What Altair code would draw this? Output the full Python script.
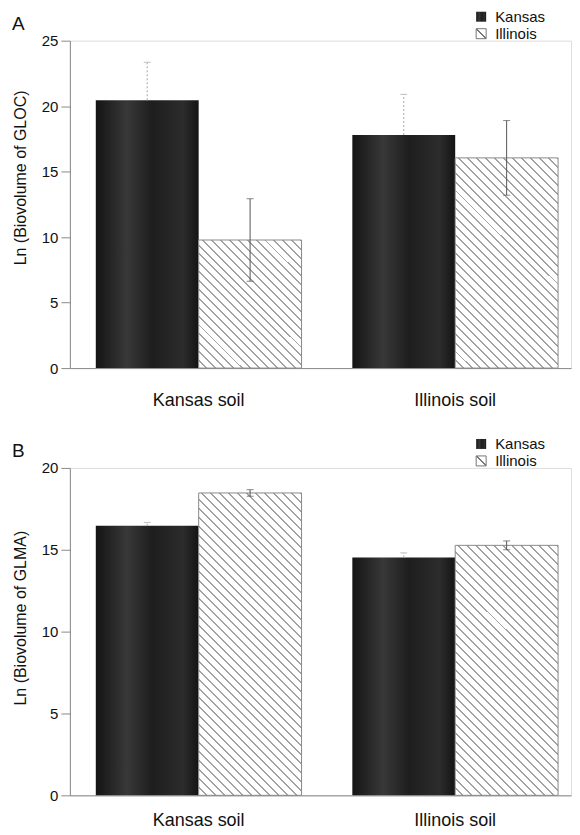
import altair as alt
import pandas as pd

soils = ["Kansas soil", "Illinois soil"]
states = ["Kansas", "Illinois"]

row_soil = ["Kansas soil", "Kansas soil", "Illinois soil", "Illinois soil"]
row_state = ["Kansas", "Illinois", "Kansas", "Illinois"]

# Panel A: Ln (Biovolume of GLOC)
a_mean = [20.45, 9.78, 17.8, 16.05]
a_err = [2.9, 3.15, 3.1, 2.85]
# Panel B: Ln (Biovolume of GLMA)
b_mean = [16.47, 18.47, 14.53, 15.27]
b_err = [0.2, 0.2, 0.28, 0.27]

a_ticks = [0, 5, 10, 15, 20, 25]
b_ticks = [0, 5, 10, 15, 20]

FONT = "Liberation Sans"
PLOT_W = 502
PLOT_H = 328
BAR_W = 103  # approx pixel width of one bar (for hatch spacing only)


def hatch(h_px, spacing=9.0, frac=0.78, color="#a2a2a2"):
    """Diagonal '\\' hatch at 45 degrees for a bar of height h_px (style only)."""
    r = h_px / BAR_W
    k = (1 + r) / (1 + r * r)
    n = max(1, int(round((BAR_W + h_px) / spacing)))
    stops = []
    for i in range(n):
        p0 = i / n
        p1 = (i + frac) / n
        p2 = (i + 1) / n
        stops += [
            {"offset": p0, "color": "#ffffff"},
            {"offset": p1, "color": "#ffffff"},
            {"offset": p1, "color": color},
            {"offset": p2, "color": color},
        ]
    return {"gradient": "linear", "x1": 0, "y1": 1, "x2": k, "y2": 1 - k * r, "stops": stops}


DARK = {
    "gradient": "linear", "x1": 0, "y1": 0, "x2": 1, "y2": 0,
    "stops": [
        {"offset": 0, "color": "#141414"},
        {"offset": 0.3, "color": "#383838"},
        {"offset": 0.55, "color": "#1e1e1e"},
        {"offset": 0.85, "color": "#2c2c2c"},
        {"offset": 1, "color": "#141414"},
    ],
}
HATCH_SMALL = {"gradient": "linear", "x1": 0, "y1": 1, "x2": 1, "y2": 0,
               "stops": [{"offset": 0, "color": "#ffffff"}, {"offset": 0.45, "color": "#ffffff"},
                         {"offset": 0.45, "color": "#777777"}, {"offset": 0.55, "color": "#777777"},
                         {"offset": 0.55, "color": "#ffffff"}, {"offset": 1, "color": "#ffffff"}]}


def panel(mean, err, ymax, ticks, ytitle, letter, title_y, label_pad):
    df = pd.DataFrame({"soil": row_soil, "state": row_state, "mean": mean, "err": err})
    df["hi"] = df["mean"] + df["err"]
    df["lo"] = [m if s == "Kansas" else m - e for m, e, s in zip(df["mean"], df["err"], df["state"])]

    x = alt.X(
        "soil:N", sort=soils,
        scale=alt.Scale(paddingInner=0.198, paddingOuter=0.0757, align=0.667),
        axis=alt.Axis(title=None, ticks=False, tickSize=0, labelFontSize=18, labelFont=FONT,
                      labelPadding=label_pad, labelBaseline="middle", labelAngle=0,
                      domainColor="#8a8a8a", labelColor="#111111"),
    )
    xo = alt.XOffset("state:N", sort=states, scale=alt.Scale(paddingInner=0, paddingOuter=0))
    y = alt.Y(
        "mean:Q", scale=alt.Scale(domain=[0, ymax], nice=False, zero=True),
        axis=alt.Axis(values=ticks, title=ytitle, titleFont=FONT, titleFontSize=16,
                      titleFontWeight="normal", titleColor="#111111",
                      titleX=-49, titleY=title_y, titleAngle=270, titleBaseline="middle",
                      titleAlign="center",
                      labelFont=FONT, labelFontSize=15, labelColor="#111111", labelPadding=3,
                      tickSize=9, tickColor="#8a8a8a", domainColor="#8a8a8a", grid=False),
    )

    base = alt.Chart(df)
    layers = [base.transform_filter("datum.state == 'Kansas'").mark_bar(
        fill=DARK, strokeWidth=0).encode(x=x, xOffset=xo, y=y)]
    px_per_unit = PLOT_H / ymax
    for s, st, m in zip(row_soil, row_state, mean):
        if st != "Illinois":
            continue
        layers.append(
            base.transform_filter(f"datum.state == 'Illinois' && datum.soil == '{s}'").mark_bar(
                fill=hatch(m * px_per_unit), stroke="#8a8a8a", strokeWidth=1).encode(x=x, xOffset=xo, y=y))

    layers += [
        base.transform_filter("datum.state == 'Kansas'").mark_rule(
            color="#a8a8a8", strokeDash=[2, 2], strokeWidth=1).encode(x=x, xOffset=xo, y="lo:Q", y2="hi:Q"),
        base.transform_filter("datum.state == 'Kansas'").mark_tick(
            color="#a8a8a8", size=7, thickness=1).encode(x=x, xOffset=xo, y="hi:Q"),
        base.transform_filter("datum.state == 'Illinois'").mark_rule(
            color="#555555", strokeWidth=1).encode(x=x, xOffset=xo, y="lo:Q", y2="hi:Q"),
        base.transform_filter("datum.state == 'Illinois'").mark_tick(
            color="#555555", size=7, thickness=1).encode(x=x, xOffset=xo, y="hi:Q"),
        base.transform_filter("datum.state == 'Illinois'").mark_tick(
            color="#555555", size=7, thickness=1).encode(x=x, xOffset=xo, y="lo:Q"),
    ]

    one = pd.DataFrame({"k": [0]})
    lg_df = pd.DataFrame({"label": states})
    layers += [
        alt.Chart(one).mark_square(size=100, fill=DARK, strokeWidth=0, opacity=1).encode(
            x=alt.value(412), y=alt.value(-24)),
        alt.Chart(one).mark_square(size=100, fill=HATCH_SMALL, stroke="#777777",
                                   strokeWidth=1, opacity=1).encode(x=alt.value(412), y=alt.value(-7)),
        alt.Chart(lg_df).transform_filter("datum.label == 'Kansas'").mark_text(
            align="left", baseline="middle", font=FONT, fontSize=15, color="#111111").encode(
            x=alt.value(426), y=alt.value(-24), text="label:N"),
        alt.Chart(lg_df).transform_filter("datum.label == 'Illinois'").mark_text(
            align="left", baseline="middle", font=FONT, fontSize=15, color="#111111").encode(
            x=alt.value(426), y=alt.value(-7), text="label:N"),
        alt.Chart(pd.DataFrame({"t": [letter]})).mark_text(
            align="left", baseline="middle", font=FONT, fontSize=19, color="#111111").encode(
            x=alt.value(-58), y=alt.value(-17), text="t:N"),
    ]
    return alt.layer(*layers).properties(width=PLOT_W, height=PLOT_H)


pa = panel(a_mean, a_err, 25, a_ticks, "Ln (Biovolume of GLOC)", "A", 137, 32)
pb = panel(b_mean, b_err, 20, b_ticks, "Ln (Biovolume of GLMA)", "B", 150, 25)

chart = alt.vconcat(pa, pb, spacing=26).properties(
    padding={"left": 3, "top": 0, "right": 0, "bottom": 0}
).configure_view(stroke=None).configure(background="#ffffff")

chart.save("out.html", embed_options={"renderer": "svg", "actions": False})
